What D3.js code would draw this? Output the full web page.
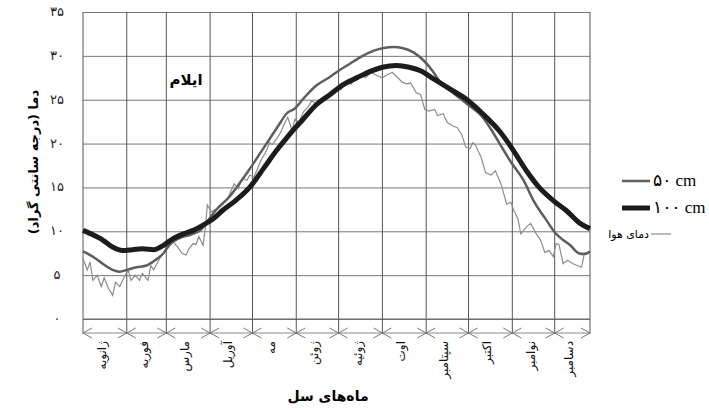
<!DOCTYPE html>
<html>
<head>
<meta charset="utf-8">
<script src="https://cdn.jsdelivr.net/npm/d3@7"></script>
<style>
  body { margin: 0; background: #fff; }
  svg { display: block; }
</style>
</head>
<body>
<div id="chart"><svg></svg></div>
<script>
// Month names (Persian) and their start day in the year
var months = ["ژانویه", "فوریه", "مارس", "آوریل", "مه", "ژوئن", "ژوئیه", "اوت", "سپتامبر", "اکتبر", "نوامبر", "دسامبر"];
var monthStart = [0, 31, 59, 90, 120, 151, 181, 212, 243, 273, 304, 334, 359];
var yTicks = [0, 5, 10, 15, 20, 25, 30, 35];

// [day of year, temperature °C]
var soil50 = [
  [0, 7.7], [7, 7.1], [14, 6.3], [21, 5.6], [26, 5.4], [31, 5.6], [38, 5.9], [45, 6.1], [51, 6.7],
  [57, 7.5], [61, 8.4], [68, 9.2], [76, 9.6], [83, 10.1], [87, 10.9], [94, 12.4], [104, 14.0],
  [111, 15.5], [118, 17.1], [125, 18.8], [132, 20.5], [139, 22.2], [144, 23.4], [150, 24.0],
  [157, 25.3], [165, 26.6], [174, 27.5], [181, 28.3], [189, 29.1], [198, 30.0], [206, 30.6],
  [213, 30.9], [220, 31.0], [226, 30.9], [234, 30.4], [241, 29.5], [247, 28.4], [253, 27.0],
  [262, 25.8], [272, 24.5], [283, 23.0], [289, 21.6], [295, 20.0], [303, 17.9], [312, 15.8],
  [319, 13.5], [328, 11.3], [335, 9.7], [340, 9.0], [345, 8.4], [351, 7.5], [355, 7.4], [359, 7.7]
];

var soil100 = [
  [0, 10.1], [7, 9.6], [14, 9.0], [21, 8.2], [28, 7.8], [35, 7.9], [42, 8.0], [50, 7.9],
  [57, 8.4], [64, 9.2], [71, 9.7], [78, 10.1], [85, 10.7], [92, 11.4], [99, 12.4], [108, 13.5],
  [118, 15.0], [128, 17.2], [137, 19.2], [146, 21.0], [156, 22.8], [165, 24.4], [175, 25.6],
  [184, 26.7], [194, 27.5], [203, 28.2], [212, 28.7], [222, 28.9], [231, 28.7], [239, 28.3],
  [248, 27.4], [260, 26.2], [271, 25.1], [283, 23.4], [295, 21.4], [304, 19.4], [314, 16.9],
  [323, 15.0], [333, 13.5], [342, 12.4], [352, 10.9], [359, 10.3]
];

var airTemp = [
  [0, 6.9], [3, 5.6], [5, 6.5], [7, 4.4], [10, 5.0], [13, 3.7], [15, 4.7], [18, 3.5], [21, 2.7],
  [23, 4.2], [26, 3.7], [29, 4.7], [32, 5.6], [34, 4.4], [37, 5.0], [40, 4.4], [42, 5.2], [46, 4.4],
  [48, 6.1], [50, 5.6], [53, 6.5], [55, 7.1], [58, 7.8], [60, 8.8], [62, 9.0], [65, 8.6], [68, 8.0],
  [70, 7.5], [73, 7.3], [75, 8.0], [78, 8.6], [80, 8.5], [82, 9.4], [85, 8.4], [87, 10.9],
  [88, 13.0], [91, 12.2], [94, 12.5], [97, 12.8], [99, 13.1], [102, 13.6], [104, 14.3], [107, 15.4],
  [110, 14.9], [113, 16.1], [116, 15.8], [118, 16.4], [121, 16.2], [123, 16.9], [126, 18.1],
  [130, 19.2], [132, 20.1], [134, 19.9], [137, 20.5], [140, 21.3], [143, 22.4], [145, 23.0],
  [148, 21.5], [150, 22.8], [153, 22.4], [156, 23.6], [159, 24.1], [162, 24.9], [165, 24.5],
  [169, 25.1], [172, 25.3], [176, 25.8], [179, 26.0], [183, 26.2], [186, 27.0], [190, 26.8],
  [193, 27.7], [197, 27.9], [200, 27.5], [204, 28.1], [209, 27.7], [212, 27.5], [216, 27.9],
  [219, 28.1], [223, 27.5], [226, 27.0], [229, 26.8], [232, 26.9], [236, 25.8], [239, 25.6],
  [242, 23.9], [245, 23.7], [249, 23.9], [251, 23.2], [255, 23.4], [258, 22.4], [262, 22.0],
  [265, 21.8], [268, 21.1], [271, 19.6], [274, 19.4], [276, 20.1], [278, 19.8], [282, 18.4],
  [285, 16.7], [289, 16.4], [292, 16.9], [296, 15.4], [300, 13.1], [303, 13.3], [305, 12.4],
  [308, 11.4], [310, 9.7], [314, 10.5], [317, 10.9], [321, 9.7], [324, 9.0], [327, 7.6],
  [330, 7.8], [333, 7.1], [335, 8.6], [337, 8.5], [340, 6.3], [343, 6.7], [347, 6.3],
  [350, 6.1], [353, 5.9], [355, 7.5], [358, 7.6]
];

var legendItems = [
  {label: "۵۰ cm", color: "#5e5e5e", width: 2.5},
  {label: "۱۰۰ cm", color: "#1c1c1c", width: 5},
  {label: "دمای هوا", color: "#8c8c8c", width: 1.2}
];

function toPersianDigits(s) {
  return String(s).replace(/[0-9]/g, d => "۰۱۲۳۴۵۶۷۸۹"[+d]);
}

function drawChart() {
  var svgWidth = 709;
  var svgHeight = 410;
  var plot = {l: 83, r: 590, t: 12, b: 319};

  var svg = d3.select('#chart > svg')
    .attr('width', svgWidth)
    .attr('height', svgHeight);

  var xScale = d3.scaleLinear().domain([0, 359]).range([plot.l, plot.r]);
  var yScale = d3.scaleLinear().domain([0, 35]).range([plot.b, plot.t]);

  // Horizontal grid + y labels
  svg.append('g')
    .attr('transform', 'translate(' + plot.l + ',0)')
    .call(d3.axisLeft(yScale).tickValues(yTicks).tickSize(-(plot.r - plot.l)).tickFormat(''))
    .call(g => g.select('.domain').remove())
    .call(g => g.selectAll('.tick line').attr('stroke', '#777'));

  svg.append('g').selectAll('text')
    .data(yTicks)
    .enter()
    .append('text')
    .attr('x', 57)
    .attr('y', d => yScale(d) + 4)
    .attr('text-anchor', 'middle')
    .attr('font-family', 'DejaVu Sans')
    .attr('font-size', '13px')
    .attr('fill', '#222')
    .text(d => toPersianDigits(d));

  // Vertical month grid lines, extended down to the arrow row
  svg.append('g').selectAll('line')
    .data(monthStart)
    .enter()
    .append('line')
    .attr('x1', d => xScale(d))
    .attr('x2', d => xScale(d))
    .attr('y1', plot.t)
    .attr('y2', 334)
    .attr('stroke', '#555')
    .attr('stroke-width', 1);

  svg.append('line')
    .attr('x1', plot.l).attr('x2', plot.r)
    .attr('y1', plot.b).attr('y2', plot.b)
    .attr('stroke', '#666');

  // Arrow row under the plot
  var arrowY = 333;
  svg.append('line')
    .attr('x1', plot.l).attr('x2', plot.r)
    .attr('y1', arrowY).attr('y2', arrowY)
    .attr('stroke', '#888');

  var spans = months.map((m, i) => ({name: m, a: monthStart[i], b: monthStart[i + 1]}));
  var arrowG = svg.append('g').attr('stroke', '#777').attr('fill', 'none');
  spans.forEach(s => {
    var xa = xScale(s.a), xb = xScale(s.b);
    arrowG.append('path').attr('d', 'M' + (xa + 9) + ',' + (arrowY - 5) + 'L' + xa + ',' + arrowY + 'L' + (xa + 9) + ',' + (arrowY + 5));
    arrowG.append('path').attr('d', 'M' + (xb - 9) + ',' + (arrowY - 5) + 'L' + xb + ',' + arrowY + 'L' + (xb - 9) + ',' + (arrowY + 5));
  });

  // Month labels, rotated
  svg.append('g').selectAll('text')
    .data(spans)
    .enter()
    .append('text')
    .attr('transform', d => 'translate(' + ((xScale(d.a) + xScale(d.b)) / 2 + 1) + ',341) rotate(-90)')
    .attr('text-anchor', 'end')
    .attr('font-family', 'DejaVu Sans')
    .attr('font-size', '12px')
    .attr('fill', '#111')
    .text(d => d.name);

  // Series
  var line = d3.line()
    .x(d => xScale(d[0]))
    .y(d => yScale(d[1]));

  svg.append('path')
    .datum(airTemp)
    .attr('fill', 'none')
    .attr('stroke', legendItems[2].color)
    .attr('stroke-width', legendItems[2].width)
    .attr('d', line.curve(d3.curveLinear));

  svg.append('path')
    .datum(soil50)
    .attr('fill', 'none')
    .attr('stroke', legendItems[0].color)
    .attr('stroke-width', legendItems[0].width)
    .attr('d', line.curve(d3.curveMonotoneX));

  svg.append('path')
    .datum(soil100)
    .attr('fill', 'none')
    .attr('stroke', legendItems[1].color)
    .attr('stroke-width', legendItems[1].width)
    .attr('d', line.curve(d3.curveMonotoneX));

  // Station name
  svg.append('text')
    .attr('x', 186)
    .attr('y', 85)
    .attr('text-anchor', 'middle')
    .attr('font-family', 'DejaVu Sans')
    .attr('font-weight', 'bold')
    .attr('font-size', '15px')
    .text('ایلام');

  // Axis titles
  svg.append('text')
    .attr('transform', 'translate(38,162) rotate(-90)')
    .attr('text-anchor', 'middle')
    .attr('font-family', 'DejaVu Sans')
    .attr('font-weight', 'bold')
    .attr('font-size', '13px')
    .text('دما (درجه سانتی گراد)');

  svg.append('text')
    .attr('x', 328)
    .attr('y', 401)
    .attr('text-anchor', 'middle')
    .attr('font-family', 'DejaVu Sans')
    .attr('font-weight', 'bold')
    .attr('font-size', '14px')
    .text('ماه‌های سل');

  // Legend
  var legendY = [181, 208, 234];
  var legend = svg.append('g');
  legendItems.forEach((item, i) => {
    var y = legendY[i];
    if (i < 2) {
      legend.append('line')
        .attr('x1', 622).attr('x2', 650).attr('y1', y).attr('y2', y)
        .attr('stroke', item.color).attr('stroke-width', item.width);
      legend.append('text')
        .attr('x', 653).attr('y', y + 5)
        .attr('font-family', 'Liberation Serif, DejaVu Sans')
        .attr('font-size', '17px')
        .text(item.label);
    } else {
      legend.append('text')
        .attr('x', 649).attr('y', y + 4)
        .attr('text-anchor', 'end')
        .attr('font-family', 'DejaVu Sans')
        .attr('font-size', '11px')
        .text(item.label);
      legend.append('line')
        .attr('x1', 651).attr('x2', 671).attr('y1', y).attr('y2', y)
        .attr('stroke', item.color).attr('stroke-width', item.width);
    }
  });
}

drawChart();
</script>
</body>
</html>
